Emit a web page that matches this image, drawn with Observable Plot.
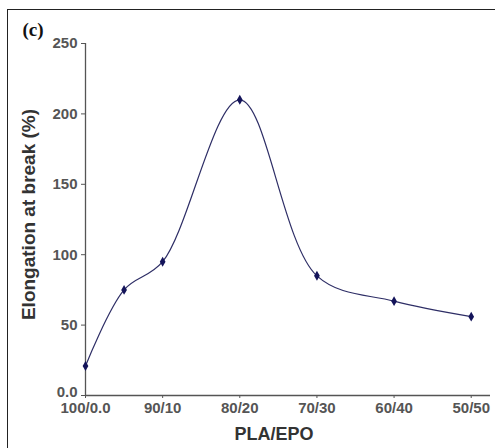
<!DOCTYPE html>
<html>
<head>
<meta charset="utf-8">
<script src="https://cdn.jsdelivr.net/npm/d3@7"></script>
<script src="https://cdn.jsdelivr.net/npm/@observablehq/plot@0.6"></script>
<style>
  html, body { margin: 0; padding: 0; background: #fff; }
  #wrap { position: relative; width: 495px; height: 448px; overflow: hidden; }
  #frame { position: absolute; left: 7px; top: 9px; width: 500px; height: 460px; border-left: 1px solid #222; border-top: 1px solid #222; pointer-events: none; }
</style>
</head>
<body>
<div id="wrap"><div id="frame"></div></div>
<script>
// EPO content (wt%) used as x position, composition labels, elongation values
const epoContent = [0, 5, 10, 20, 30, 40, 50];
const elongation = [21, 75, 95, 210, 85, 67, 56];
const tickValues = [0, 10, 20, 30, 40, 50];
const tickLabels = ["100/0.0", "90/10", "80/20", "70/30", "60/40", "50/50"];
const yTicks = [0, 50, 100, 150, 200, 250];

const data = epoContent.map((x, i) => ({x, y: elongation[i]}));
const labelOf = new Map(tickValues.map((v, i) => [v, tickLabels[i]]));

const font = "'Liberation Sans', Arial, sans-serif";
const axisColor = "#555";

const chart = Plot.plot({
  width: 495,
  height: 448,
  marginLeft: 85,
  marginRight: 5,
  marginTop: 43,
  marginBottom: 53,
  style: {fontFamily: font, background: "transparent", color: "#222"},
  x: {domain: [0, 52.5]},
  y: {domain: [0, 250]},
  marks: [
    Plot.ruleX([0], {stroke: axisColor, strokeWidth: 1.3}),
    Plot.ruleY([0], {stroke: axisColor, strokeWidth: 1.3}),
    Plot.axisY({ticks: yTicks, tickFormat: d => d === 0 ? "" : String(d), tickSize: 4, tickPadding: 4,
      fontSize: 15, fontWeight: "bold", label: null, color: axisColor}),
    Plot.axisY({ticks: [0], tickFormat: () => "0.0", tickSize: 4, tickPadding: 4, dy: -3,
      fontSize: 15, fontWeight: "bold", label: null, color: axisColor, stroke: null}),
    Plot.axisX({ticks: tickValues, tickFormat: d => labelOf.get(d), tickSize: 3, tickPadding: 4,
      fontSize: 15, fontWeight: "bold", label: null, color: axisColor}),
    Plot.line(data, {x: "x", y: "y", curve: "catmull-rom", stroke: "#2e2e66", strokeWidth: 1.2}),
    Plot.dot(data, {x: "x", y: "y", symbol: "diamond", r: 3, fill: "#14145a", stroke: "none"}),
    Plot.text(["Elongation at break (%)"], {frameAnchor: "left", textAnchor: "middle", rotate: -90, dx: -57, dy: -5,
      fontSize: 19, fontWeight: "bold", fill: "#333"}),
    Plot.text(["PLA/EPO"], {frameAnchor: "bottom", dx: -14, dy: 44, fontSize: 18, fontWeight: "bold", fill: "#333"}),
    Plot.text(["(c)"], {frameAnchor: "top-left", dx: -63, dy: -21, fontSize: 19, fontWeight: "bold",
      fontFamily: "'Liberation Serif', 'Times New Roman', serif", fill: "#111"})
  ]
});
chart.style.position = "absolute";
chart.style.left = "0";
chart.style.top = "0";
document.getElementById("wrap").appendChild(chart);
</script>
</body>
</html>
